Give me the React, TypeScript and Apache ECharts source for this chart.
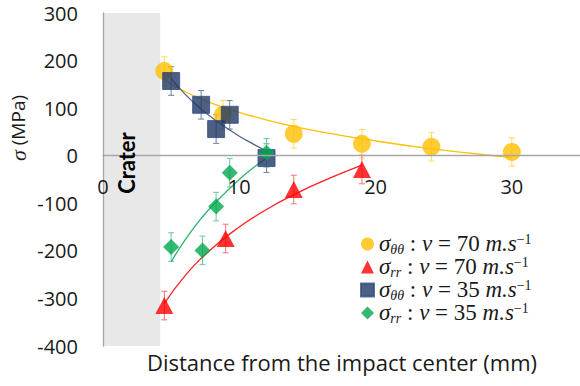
import React, { useEffect, useRef } from "react";
import * as echarts from "echarts";

// σθθ, v = 70 m/s (yellow circles)
const tt70X = [4.5, 8.8, 14.0, 19.0, 24.1, 30.0];
const tt70Y = [178, 86, 46, 25, 19, 8];
const tt70Err = [30, 30, 30, 30, 30, 30];
// σrr, v = 70 m/s (red triangles)
const rr70X = [4.5, 9.0, 14.0, 19.0];
const rr70Y = [-315, -174, -71, -29];
const rr70Err = [30, 30, 30, 30];
// σθθ, v = 35 m/s (blue squares)
const tt35X = [5.0, 7.2, 8.3, 9.3, 12.0];
const tt35Y = [157, 107, 56, 86, -5];
const tt35Err = [30, 30, 30, 30, 30];
// σrr, v = 35 m/s (green diamonds)
const rr35X = [5.0, 7.3, 8.3, 9.3, 12.0];
const rr35Y = [-192, -199, -107, -36, 6];
const rr35Err = [30, 30, 30, 30, 30];

// trend curves
const trendTT70 = [[4.5, 160], [6, 135], [8, 110], [10, 91], [13, 68], [16, 50], [20, 31], [24, 15], [28, 2], [30, -4]];
const trendRR70 = [[4.5, -311], [6, -253], [8, -195], [10, -150], [12, -113], [14, -82], [16, -55], [19, -20]];
const trendTT35 = [[5, 162], [6, 130], [7, 103], [8, 80], [9, 60], [10, 41], [11, 25], [12, 10]];
const trendRR35 = [[5, -223], [6, -178], [7, -139], [8, -106], [9, -77], [10, -50], [11, -26], [12, -5]];

const craterRange = [0, 4.2];
const xTicks = { min: 0, max: 35, interval: 10 };
const yTicks = { min: -400, max: 300, interval: 100 };

const legendLabels: Record<string, string> = {
  tt70: "{g|σ}{sub|θθ}{t| : }{g|v}{t| = 70 }{g|m.s}{sup|−1}",
  rr70: "{g|σ}{sub|rr}{t| : }{g|v}{t| = 70 }{g|m.s}{sup|−1}",
  tt35: "{g|σ}{sub|θθ}{t| : }{g|v}{t| = 35 }{g|m.s}{sup|−1}",
  rr35: "{g|σ}{sub|rr}{t| : }{g|v}{t| = 35 }{g|m.s}{sup|−1}",
};

const UI_FONT = "'Open Sans', Lato, sans-serif";
const MATH_FONT = "'Liberation Serif', 'DejaVu Serif', serif";

const GRID = { left: 103, right: 0, top: 13, bottom: 40 };
const PLOT_H = 386 - GRID.top - GRID.bottom;

function zip(xs: number[], ys: number[]) {
  return xs.map((x, i) => [x, ys[i]]);
}

function errorSeries(xs: number[], ys: number[], es: number[], color: string) {
  return {
    type: "custom",
    silent: true,
    z: 3,
    data: xs.map((x, i) => [x, ys[i], es[i]]),
    encode: { x: 0, y: 1 },
    renderItem: (params: any, api: any) => {
      const x = api.value(0);
      const y = api.value(1);
      const e = api.value(2);
      const top = api.coord([x, y + e]);
      const bot = api.coord([x, y - e]);
      const w = 3;
      const st = { stroke: color, lineWidth: 1 };
      return {
        type: "group",
        children: [
          { type: "line", shape: { x1: top[0], y1: top[1], x2: bot[0], y2: bot[1] }, style: st },
          { type: "line", shape: { x1: top[0] - w, y1: top[1], x2: top[0] + w, y2: top[1] }, style: st },
          { type: "line", shape: { x1: bot[0] - w, y1: bot[1], x2: bot[0] + w, y2: bot[1] }, style: st },
        ],
      };
    },
  };
}

function trendSeries(pts: number[][], color: string, extra: any = {}) {
  return {
    type: "line",
    data: pts,
    smooth: true,
    showSymbol: false,
    silent: true,
    z: 4,
    lineStyle: { color, width: 1.3 },
    ...extra,
  };
}

export default function App() {
  const ref = useRef<HTMLDivElement>(null);
  useEffect(() => {
    if (!ref.current) return;
    const chart = echarts.init(ref.current, null, { renderer: "svg" });
    // place the x axis on y = 0
    const zeroOffset = -((0 - yTicks.min) / (yTicks.max - yTicks.min)) * PLOT_H;
    const option: any = {
      animation: false,
      backgroundColor: "#ffffff",
      grid: GRID,
      xAxis: {
        type: "value",
        min: xTicks.min,
        max: xTicks.max,
        interval: xTicks.interval,
        position: "bottom",
        offset: zeroOffset,
        z: 6,
        axisLine: { show: true, onZero: false, lineStyle: { color: "#a6a6a6", width: 1.3 } },
        axisTick: { show: false },
        splitLine: { show: false },
        axisLabel: {
          showMaxLabel: false,
          margin: 21,
          fontSize: 20,
          fontFamily: UI_FONT,
          color: "#1a1a1a",
        },
      },
      yAxis: {
        type: "value",
        min: yTicks.min,
        max: yTicks.max,
        interval: yTicks.interval,
        z: 6,
        axisLine: { show: true, lineStyle: { color: "#a6a6a6", width: 1.3 } },
        axisTick: { show: false },
        splitLine: { show: false },
        axisLabel: {
          margin: 25,
          fontSize: 20,
          fontFamily: UI_FONT,
          color: "#1a1a1a",
        },
      },
      legend: {
        data: ["tt70", "rr70", "tt35", "rr35"],
        orient: "vertical",
        left: 355,
        top: 227,
        itemWidth: 13,
        itemHeight: 13,
        itemGap: -1,
        formatter: (name: string) => legendLabels[name],
        textStyle: {
          rich: {
            g: { fontFamily: MATH_FONT, fontStyle: "italic", fontSize: 23, color: "#1a1a1a", lineHeight: 24, verticalAlign: "top" },
            t: { fontFamily: MATH_FONT, fontSize: 23, color: "#1a1a1a", lineHeight: 24, verticalAlign: "top" },
            sub: { fontFamily: MATH_FONT, fontStyle: "italic", fontSize: 14, color: "#1a1a1a", lineHeight: 13, verticalAlign: "bottom" },
            sup: { fontFamily: MATH_FONT, fontSize: 14, color: "#1a1a1a", lineHeight: 13, verticalAlign: "top" },
          },
        },
      },
      graphic: [
        {
          type: "text",
          x: 126,
          y: 163,
          rotation: Math.PI / 2,
          z: 10,
          style: {
            text: "Crater",
            fontSize: 22,
            fontWeight: "bold",
            fontFamily: "Lato, sans-serif",
            fill: "#000000",
            align: "center",
            verticalAlign: "middle",
          },
        },
        {
          type: "text",
          x: 18,
          y: 128,
          rotation: Math.PI / 2,
          style: {
            text: "{i|σ} (MPa)",
            fontSize: 19,
            fontFamily: UI_FONT,
            fill: "#1a1a1a",
            align: "center",
            verticalAlign: "middle",
            rich: { i: { fontFamily: MATH_FONT, fontStyle: "italic", fontSize: 22, fill: "#1a1a1a" } },
          },
        },
        {
          type: "text",
          x: 342,
          y: 362,
          style: {
            text: "Distance from the impact center (mm)",
            fontSize: 22,
            fontFamily: UI_FONT,
            fill: "#1a1a1a",
            align: "center",
            verticalAlign: "middle",
          },
        },
      ],
      series: [
        trendSeries(trendTT70, "#ffc000", {
          z: 2,
          markArea: {
            silent: true,
            itemStyle: { color: "#e8e8e8" },
            data: [[{ xAxis: craterRange[0] }, { xAxis: craterRange[1] }]],
          },
        }),
        trendSeries(trendRR70, "#ff2020"),
        trendSeries(trendTT35, "#4d6491"),
        trendSeries(trendRR35, "#2db46a"),
        errorSeries(tt70X, tt70Y, tt70Err, "#ffd966"),
        errorSeries(rr70X, rr70Y, rr70Err, "#ff7070"),
        errorSeries(tt35X, tt35Y, tt35Err, "#6f7f9f"),
        errorSeries(rr35X, rr35Y, rr35Err, "#66cc99"),
        { name: "tt70", type: "scatter", symbol: "circle", symbolSize: 18, z: 5, data: zip(tt70X, tt70Y), itemStyle: { color: "#ffc000" } },
        { name: "rr70", type: "scatter", symbol: "triangle", symbolSize: [18, 17], z: 5, data: zip(rr70X, rr70Y), itemStyle: { color: "#ff0000" } },
        { name: "tt35", type: "scatter", symbol: "rect", symbolSize: 17, z: 5, data: zip(tt35X, tt35Y), itemStyle: { color: "#203864", borderColor: "#2f4f8a", borderWidth: 1 } },
        { name: "rr35", type: "scatter", symbol: "diamond", symbolSize: 16, z: 5, data: zip(rr35X, rr35Y), itemStyle: { color: "#00a84f" } },
      ],
    };
    chart.setOption(option);
    return () => chart.dispose();
  }, []);
  return <div ref={ref} style={{ width: 580, height: 386, position: "absolute", left: 0, top: 0 }} />;
}
